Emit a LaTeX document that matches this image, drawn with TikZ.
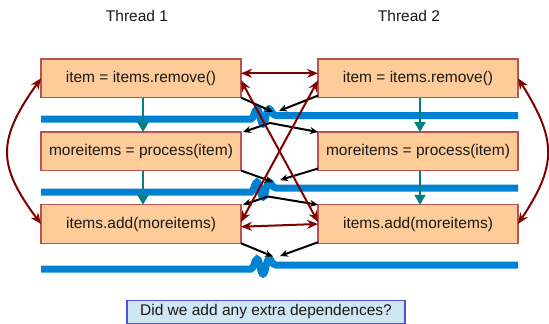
\documentclass[tikz,border=0pt]{standalone}
\usepackage{fontspec}
\setmainfont{Liberation Sans}
\usetikzlibrary{arrows.meta}
\definecolor{boxfill}{RGB}{255,204,153}
\definecolor{boxline}{RGB}{184,84,80}
\definecolor{barblue}{RGB}{0,130,210}
\definecolor{tealc}{RGB}{0,128,128}
\definecolor{darkred}{RGB}{128,0,0}
\definecolor{notefill}{RGB}{207,231,245}
\definecolor{noteline}{RGB}{80,80,230}
\definecolor{txt}{RGB}{25,25,25}
\tikzset{
  stmt/.style={draw=boxline, fill=boxfill, line width=1.2pt, minimum width=200pt, minimum height=38.5pt, inner sep=0pt, outer sep=0pt, text=txt, font=\fontsize{15.5}{18}\selectfont},
  title/.style={text=txt, font=\fontsize{15.5}{18}\selectfont},
  note/.style={draw=noteline, fill=notefill, line width=1.2pt, minimum width=278pt, minimum height=23pt, inner sep=0pt, text=txt, font=\fontsize{15.5}{18}\selectfont},
  bar/.style={draw=barblue, line width=7pt},
  flow/.style={draw=tealc, line width=2pt, -{Triangle[length=10pt,width=11pt]}},
  dep/.style={draw=black, line width=2pt, -{Stealth[length=8pt,width=7pt]}},
  redarr/.style={draw=darkred, line width=2pt, {Stealth[length=11pt,width=9pt]}-{Stealth[length=11pt,width=9pt]}},
}
\begin{document}
\begin{tikzpicture}[x=1pt,y=-1pt]
\useasboundingbox (0,0) rectangle (549,324);

\node[title] (t1) at (137,16) {Thread 1};
\node[title] (t2) at (409,16) {Thread 2};

% barrier bars
\foreach \yl/\yr in {119/115.5,192/188,269/265}{
  \pgfmathsetmacro{\yu}{\yl-10}
  \pgfmathsetmacro{\yd}{\yl+5}
  \draw[bar] (41,\yl) -- (251,\yl) .. controls (254,\yl) and (254.5,\yu) .. (257,\yu)
     .. controls (260,\yu) and (260,\yd) .. (263,\yd)
     .. controls (266,\yd) and (266,\yu) .. (269,\yu)
     .. controls (271.5,\yu) and (272,\yr) .. (276,\yr) -- (518,\yr);
}

\node[stmt] (l1) at (141,78.3) {item = items.remove()};
\node[stmt] (l2) at (141,151.3) {moreitems = process(item)};
\node[stmt] (l3) at (141,224) {items.add(moreitems)};
\node[stmt] (r1) at (418,78.3) {item = items.remove()};
\node[stmt] (r2) at (418,151.3) {moreitems = process(item)};
\node[stmt] (r3) at (418,224) {items.add(moreitems)};

\node[note] (q) at (266,311.7) {Did we add any extra dependences?};

% program order
\draw[flow] ([xshift=2pt]l1.south) -- ([xshift=2pt]l2.north);
\draw[flow] ([xshift=2pt]l2.south) -- ([xshift=2pt]l3.north);
\draw[flow] ([xshift=2pt]r1.south) -- ([xshift=2pt]r2.north);
\draw[flow] ([xshift=2pt]r2.south) -- ([xshift=2pt]r3.north);

% barrier dependences
\coordinate (j1a) at (273,112);
\coordinate (j1b) at (279,111);
\coordinate (j1c) at (270,123);
\coordinate (j2a) at (273,182);
\coordinate (j2b) at (280,180);
\coordinate (j2c) at (268,196.5);
\coordinate (j3a) at (273,256.5);
\coordinate (j3b) at (280,256);

\draw[dep] (l1.south east) -- (j1a);
\draw[dep] ([yshift=2pt]r1.south west) -- (j1b);
\draw[dep] (j1c) -- ([xshift=2pt]l2.north east);
\draw[dep] (j1c) -- (r2.north west);
\draw[dep] (l2.south east) -- (j2a);
\draw[dep] ([yshift=2pt]r2.south west) -- (j2b);
\draw[dep] (j2c) -- ([xshift=2pt]l3.north east);
\draw[dep] (j2c) -- (r3.north west);
\draw[dep] (l3.south east) -- (j3a);
\draw[dep] ([yshift=1pt]r3.south west) -- (j3b);

% data dependences
\draw[redarr] ([yshift=5pt]l1.east) -- ([yshift=5pt]r1.west);
\draw[redarr] ([yshift=-2pt]l1.east) -- ([yshift=2pt]r3.west);
\draw[redarr] ([yshift=-2pt]r1.west) -- ([yshift=2pt]l3.east);
\draw[redarr] ([yshift=-2.7pt]l3.east) -- (r3.west);
\draw[redarr] (l1.west) .. controls (-3,140) and (-3,165) .. (l3.west);
\draw[redarr] (r1.east) .. controls (557,140) and (557,165) .. (r3.east);
\end{tikzpicture}
\end{document}
